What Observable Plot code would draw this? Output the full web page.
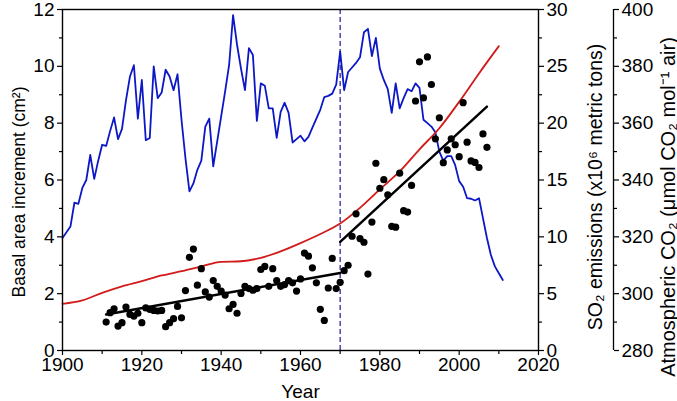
<!DOCTYPE html>
<html><head><meta charset="utf-8">
<script src="https://cdn.jsdelivr.net/npm/d3@7"></script>
<script src="https://cdn.jsdelivr.net/npm/@observablehq/plot@0.6"></script>
<style>
html,body{margin:0;padding:0;background:#fff;}
#chart{width:677px;height:401px;overflow:hidden;}
</style></head><body><div id="chart"></div>
<script>
// Scale domains and ticks
const xDomain = [1900, 2020];
const baiDomain = [0, 12];
const so2Domain = [0, 30];
const co2Domain = [280, 400];
const xMajorTicks = [1900, 1920, 1940, 1960, 1980, 2000, 2020];
const xMinorTicks = [1910, 1930, 1950, 1970, 1990, 2010];
const baiMajorTicks = [0, 2, 4, 6, 8, 10, 12];
const baiMinorTicks = [1, 3, 5, 7, 9, 11];
const so2MajorTicks = [0, 5, 10, 15, 20, 25, 30];
const so2MinorTicks = [2.5, 7.5, 12.5, 17.5, 22.5, 27.5];
const co2MajorTicks = [280, 300, 320, 340, 360, 380, 400];
const co2MinorTicks = [290, 310, 330, 350, 370, 390];
const breakYear = 1970;

// Axis titles
const xTitle = "Year";
const baiTitle = "Basal area increment (cm²)";
const so2Title = "SO₂ emissions (x10⁶ metric tons)";
const co2Title = "Atmospheric CO₂ (μmol CO₂ mol⁻¹ air)";

// Basal area increment (dots), 1911-2007
const baiStartYear = 1911;
const baiValues = [
  1.00,1.33,1.47,0.86,0.98,1.53,1.27,1.21,1.31,0.98,
  1.50,1.45,1.41,1.39,1.41,0.84,0.98,1.12,1.55,1.15,
  2.11,3.28,3.57,2.30,2.88,2.06,1.88,2.46,2.26,2.09,
  1.95,1.47,1.62,1.31,2.01,2.26,2.18,2.12,2.18,2.85,
  2.96,2.26,2.88,2.46,2.26,2.32,2.46,2.38,2.09,2.52,
  3.43,3.32,2.91,2.38,1.45,1.06,2.20,3.24,2.18,2.40,
  2.81,3.00,4.02,4.81,3.94,3.81,2.69,4.52,6.59,5.71,
  6.01,5.48,4.37,4.34,6.24,4.92,4.87,5.81,8.78,10.16,
  8.89,10.33,9.36,7.45,8.19,6.61,7.06,7.45,7.24,6.82,
  8.72,7.33,6.67,6.62,6.44,7.62,7.15
];

// Regression segments
const fit1Years = [1911, 1970];
const fit1Values = [1.27, 2.73];
const fit2Years = [1970, 2007];
const fit2Values = [3.82, 8.58];

// SO2 emissions, 1900-2011
const so2StartYear = 1900;
const so2Values = [
  9.9,10.4,10.9,13.0,12.9,14.3,15.0,17.2,15.1,16.7,
  18.1,18.0,19.3,20.5,18.6,19.5,22.0,24.1,25.1,20.4,
  23.8,18.5,18.7,25.0,22.2,22.7,24.7,24.1,22.9,24.3,
  20.3,16.9,14.0,14.7,15.9,16.7,19.7,20.4,16.2,18.4,
  20.6,22.8,25.1,29.5,26.9,24.8,22.9,26.6,26.0,20.2,
  23.5,23.3,21.3,21.3,18.7,21.0,21.8,20.9,18.3,18.6,
  18.9,18.4,18.8,19.6,20.4,21.2,22.3,22.4,22.6,23.4,
  26.3,22.9,24.5,24.9,25.3,25.8,28.0,28.3,25.9,27.5,
  24.8,23.8,23.0,20.9,23.5,21.3,22.2,23.0,22.8,23.5,
  23.1,20.3,20.0,19.7,19.2,17.5,16.7,17.1,17.1,16.3,
  14.9,14.4,13.4,13.35,13.2,13.4,11.65,9.9,8.4,7.4,
  6.8,6.2
];

// Atmospheric CO2
const co2Years = [1900,1905,1910,1915,1920,1925,1930,1935,1940,1945,1950,1955,1960,1965,1970,1975,1980,1985,1990,1995,2000,2005,2010];
const co2Values = [296.4,297.6,300.3,302.6,304.4,306.4,307.9,309.6,311.2,311.4,312.6,314.9,317.8,321.0,324.7,330.2,336.7,343.0,350.8,358.2,367.5,377.5,387.1];

// Map secondary axes onto the primary y scale
const so2ToY = v => (v - so2Domain[0]) * (baiDomain[1] - baiDomain[0]) / (so2Domain[1] - so2Domain[0]) + baiDomain[0];
const co2ToY = v => (v - co2Domain[0]) * (baiDomain[1] - baiDomain[0]) / (co2Domain[1] - co2Domain[0]) + baiDomain[0];
const yToSo2 = y => so2Domain[0] + (y - baiDomain[0]) * (so2Domain[1] - so2Domain[0]) / (baiDomain[1] - baiDomain[0]);
const yToCo2 = y => co2Domain[0] + (y - baiDomain[0]) * (co2Domain[1] - co2Domain[0]) / (baiDomain[1] - baiDomain[0]);

const baiData = baiValues.map((v, i) => ({year: baiStartYear + i, v}));
const so2Data = so2Values.map((v, i) => ({year: so2StartYear + i, y: so2ToY(v)}));
const co2Data = co2Years.map((year, i) => ({year, y: co2ToY(co2Values[i])}));
const fit1 = fit1Years.map((year, i) => ({year, v: fit1Values[i]}));
const fit2 = fit2Years.map((year, i) => ({year, v: fit2Values[i]}));

const FS = 19;
const chart = Plot.plot({
  width: 677,
  height: 401,
  marginLeft: 62,
  marginRight: 139,
  marginTop: 9,
  marginBottom: 51,
  style: {fontFamily: "Arial, 'Liberation Sans', sans-serif", fontSize: FS + "px", color: "black", background: "white"},
  x: {domain: xDomain},
  y: {domain: baiDomain},
  marks: [
    Plot.ruleX([breakYear], {stroke: "#2c2c9c", strokeWidth: 1.3, strokeDasharray: "5,3"}),
    Plot.line(so2Data, {x: "year", y: "y", stroke: "#0c18c6", strokeWidth: 1.8}),
    Plot.line(co2Data, {x: "year", y: "y", stroke: "#d21a1a", strokeWidth: 1.8, curve: "monotone-x"}),
    Plot.line(fit1, {x: "year", y: "v", stroke: "black", strokeWidth: 2.5}),
    Plot.line(fit2, {x: "year", y: "v", stroke: "black", strokeWidth: 2.5}),
    Plot.dot(baiData, {x: "year", y: "v", r: 3.6, fill: "black"}),
    Plot.axisX({ticks: xMajorTicks, tickSize: 5, tickPadding: 2, tickFormat: d => String(d), fontSize: FS,
      label: xTitle, labelAnchor: "center", labelOffset: 47, labelArrow: "none", strokeWidth: 1.2}),
    Plot.axisX({ticks: xMinorTicks, tickSize: 4, tickFormat: () => "", label: null, strokeWidth: 1.2}),
    Plot.axisY({ticks: baiMajorTicks, tickSize: 5, tickPadding: 3, fontSize: FS, label: null, strokeWidth: 1.2}),
    Plot.axisY({ticks: baiMinorTicks, tickSize: 3, tickFormat: () => "", label: null, strokeWidth: 1.2}),
    Plot.axisY({anchor: "right", ticks: so2MajorTicks.map(so2ToY), tickFormat: d => String(Math.round(yToSo2(d))),
      tickSize: 5, tickPadding: 3, fontSize: FS, label: null, strokeWidth: 1.2}),
    Plot.axisY({anchor: "right", ticks: so2MinorTicks.map(so2ToY), tickSize: 3, tickFormat: () => "", label: null, strokeWidth: 1.2}),
    Plot.axisY({anchor: "right", dx: 75, ticks: co2MajorTicks.map(co2ToY), tickFormat: d => String(Math.round(yToCo2(d))),
      tickSize: 5, tickPadding: 3, fontSize: FS, label: null, strokeWidth: 1.2}),
    Plot.axisY({anchor: "right", dx: 75, ticks: co2MinorTicks.map(co2ToY), tickSize: 3, tickFormat: () => "", label: null, strokeWidth: 1.2}),
    Plot.ruleX([xDomain[1]], {dx: 75, stroke: "black", strokeWidth: 1.3}),
    Plot.text([baiTitle], {text: d => d, frameAnchor: "left", textAnchor: "middle", rotate: -90, lineAnchor: "top", dx: -50, dy: 12, fontSize: 17.5}),
    Plot.text([so2Title], {text: d => d, frameAnchor: "right", textAnchor: "middle", rotate: -90, lineAnchor: "bottom", dx: 63, dy: 7, fontSize: 19.5}),
    Plot.text([co2Title], {text: d => d, frameAnchor: "right", textAnchor: "middle", rotate: -90, lineAnchor: "bottom", dx: 136, dy: 27, fontSize: 20}),
    Plot.frame({stroke: "black", strokeWidth: 1.4})
  ]
});
document.getElementById("chart").appendChild(chart);
</script>
</body></html>
